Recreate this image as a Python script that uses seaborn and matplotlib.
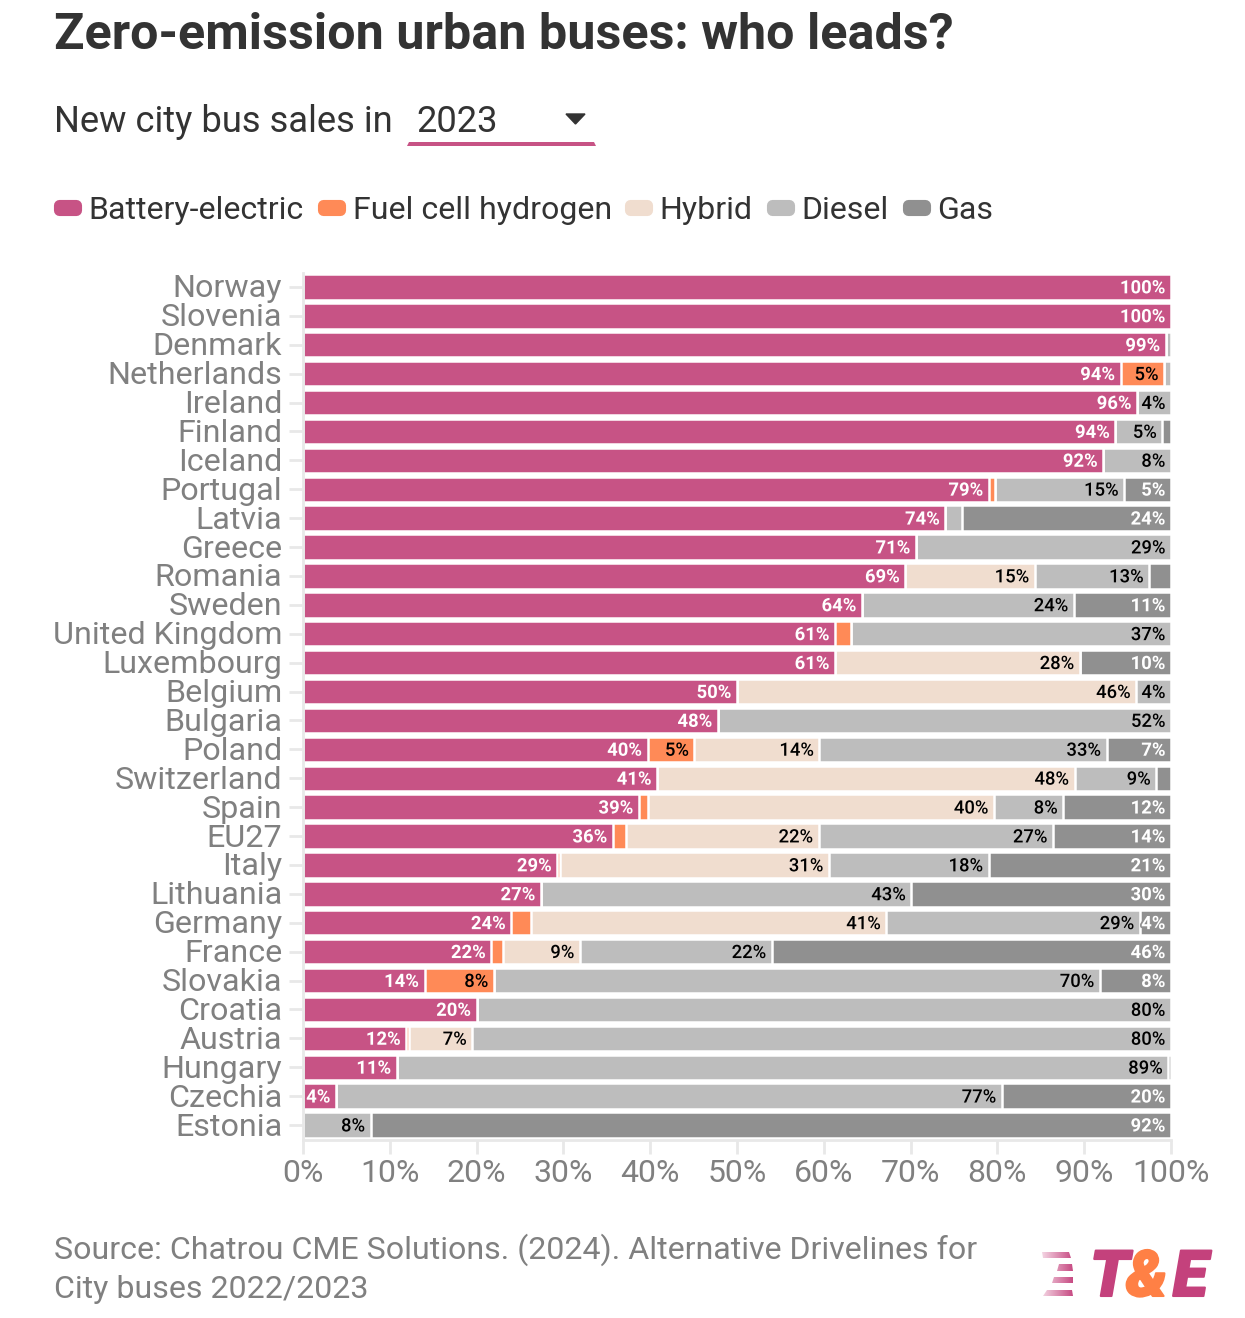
import matplotlib
matplotlib.use('Agg')
import matplotlib.pyplot as plt
import matplotlib.patheffects as pe
from matplotlib.patches import FancyBboxPatch, Polygon
from matplotlib.path import Path
from matplotlib.transforms import ScaledTranslation
import numpy as np
import pandas as pd
import seaborn as sns

countries = ['Norway', 'Slovenia', 'Denmark', 'Netherlands', 'Ireland', 'Finland', 'Iceland',
             'Portugal', 'Latvia', 'Greece', 'Romania', 'Sweden', 'United Kingdom', 'Luxembourg',
             'Belgium', 'Bulgaria', 'Poland', 'Switzerland', 'Spain', 'EU27', 'Italy', 'Lithuania',
             'Germany', 'France', 'Slovakia', 'Croatia', 'Austria', 'Hungary', 'Czechia', 'Estonia']
battery = [100, 100, 99.4, 94.2, 96.1, 93.6, 92.2, 79, 74, 70.6, 69.4, 64.4, 61.3, 61.3, 50, 47.8,
           39.7, 40.8, 38.7, 35.7, 29.3, 27.4, 24, 21.7, 14, 20, 11.9, 10.8, 3.8, 0]
fuel_cell = [0, 0, 0, 5, 0, 0, 0, 0.7, 0, 0, 0, 0, 1.8, 0, 0, 0, 5.4, 0, 1.1, 1.5, 0.3, 0, 2.3, 1.3,
             8, 0, 0.3, 0, 0, 0]
hybrid = [0, 0, 0, 0, 0, 0, 0, 0, 0, 0, 14.9, 0, 0, 28.2, 46, 0, 14.4, 48.1, 39.8, 22.2, 31, 0,
          40.9, 8.9, 0, 0, 7.3, 0, 0, 0]
diesel = [0, 0, 0.6, 0.8, 3.9, 5.4, 7.8, 14.9, 1.9, 29.4, 13.2, 24.4, 36.9, 0, 4, 52.2, 33.1, 9.4,
          8, 27, 18.4, 42.7, 29.2, 22.1, 69.8, 80, 80.5, 88.9, 76.7, 7.8]
gas = [0, 0, 0, 0, 0, 1, 0, 5.4, 24.1, 0, 2.5, 11.2, 0, 10.5, 0, 0, 7.4, 1.7, 12.4, 13.6, 21, 29.9,
       3.6, 46, 8.2, 0, 0, 0.3, 19.5, 92.2]

series_names = ['Battery-electric', 'Fuel cell hydrogen', 'Hybrid', 'Diesel', 'Gas']
series_colors = ['#C75385', '#FF8A57', '#F0DDCF', '#BDBDBD', '#909090']
label_colors = ['white', 'black', 'black', 'black', 'white']
legend_swatch_x = [54, 318, 625, 767, 903]
legend_text_x = [88, 353, 659, 801, 937]
xticks = [0, 10, 20, 30, 40, 50, 60, 70, 80, 90, 100]

W, H = 1245, 1318
GREY = '#808080'
DARK = '#333333'
LIGHT = '#E8E8E8'

sns.set_theme(style='white')
plt.rcParams['font.family'] = ['Roboto', 'DejaVu Sans']

fig = plt.figure(figsize=(W / 100, H / 100), dpi=100, facecolor='white')
ax = fig.add_axes([303 / W, 1 - 1139.5 / H, 868 / W, 867 / H])

df = pd.DataFrame({'country': countries, 'battery': battery, 'fuel_cell': fuel_cell,
                   'hybrid': hybrid, 'diesel': diesel, 'gas': gas})
cols = ['battery', 'fuel_cell', 'hybrid', 'diesel', 'gas']
cum = df[cols].cumsum(axis=1)

# stacked bars: draw the longest cumulative first, shorter ones on top
for col, color in reversed(list(zip(cols, series_colors))):
    sns.barplot(data=cum.assign(country=df['country']), y='country', x=col, color=color,
                saturation=1, width=0.88, edgecolor='white', linewidth=1.8, errorbar=None,
                order=countries, ax=ax)

# percentage labels, right aligned inside the segment
for col, color, txt_color in zip(cols, series_colors, label_colors):
    weight = 'bold' if txt_color == 'white' else 'medium'
    for i in range(len(countries)):
        if df[col][i] >= 3.5:
            ax.annotate(f"{df[col][i]:.0f}%", (cum[col][i], i), xytext=(-4, -1),
                        textcoords='offset points', ha='right', va='center',
                        fontsize=13.3, fontweight=weight, color=txt_color,
                        path_effects=[pe.withStroke(linewidth=2.5, foreground=color)])

ax.set_xlim(0, 100)
ax.set_ylim(len(countries) - 0.5, -0.5)
ax.set_xticks(xticks)
ax.set_xticklabels([f'{t}%' for t in xticks], fontsize=23, color=GREY)
ax.tick_params(axis='x', length=10, width=2, color=LIGHT, pad=4, bottom=True)
ax.tick_params(axis='y', length=10, width=2, color=LIGHT, pad=5, left=True, labelsize=23.2,
               labelcolor=GREY)
# nudge country names up a little
nudge = ScaledTranslation(0, 1 / 100, fig.dpi_scale_trans)
for lab in ax.get_yticklabels():
    lab.set_transform(lab.get_transform() + nudge)
ax.set_xlabel('')
ax.set_ylabel('')
sns.despine(ax=ax, top=True, right=True)
for side in ['left', 'bottom']:
    ax.spines[side].set_color(LIGHT)
    ax.spines[side].set_linewidth(2)


def fx(x):
    return x / W


def fy(y):
    return 1 - y / H


fig.text(fx(54), fy(49), 'Zero-emission urban buses: who leads?', fontsize=36.2, fontweight='bold',
         color=DARK, va='baseline')
fig.text(fx(54), fy(132), 'New city bus sales in', fontsize=26.2, color=DARK, va='baseline')
fig.text(fx(416), fy(132), '2023', fontsize=26.2, color=DARK, va='baseline')

# dropdown arrow and underline
fig.add_artist(Polygon([(fx(566), fy(114)), (fx(585), fy(114)), (fx(575.5), fy(124))],
                       closed=True, color=DARK, transform=fig.transFigure))
fig.add_artist(Polygon([(fx(409), fy(142)), (fx(594), fy(142)), (fx(596), fy(146)), (fx(407), fy(146))],
                       closed=True, color=series_colors[0], lw=0, transform=fig.transFigure))

# legend row
overlay = fig.add_axes([0, 0, 1, 1], facecolor='none', zorder=-1)
overlay.set_xlim(0, W)
overlay.set_ylim(H, 0)
overlay.axis('off')
for name, color, sx, tx in zip(series_names, series_colors, legend_swatch_x, legend_text_x):
    overlay.add_patch(FancyBboxPatch((sx + 5.5, 205.5), 17, 5, boxstyle='round,pad=0,rounding_size=0',
                                     lw=8, ec=color, fc=color, capstyle='round', joinstyle='round'))
    fig.text(fx(tx), fy(219), name, fontsize=23.1, color=DARK, va='baseline')

# source
fig.text(fx(54), fy(1259), 'Source: Chatrou CME Solutions. (2024). Alternative Drivelines for',
         fontsize=23.1, color=GREY, va='baseline')
fig.text(fx(54), fy(1298), 'City buses 2022/2023', fontsize=23.1, color=GREY, va='baseline')

# T&E logo: wordmark plus the four faded stripes
for ch, lx, c in [('T', 1090, '#C4417C'), ('&', 1126, '#FF8045'), ('E', 1173, '#C4417C')]:
    fig.text(fx(lx), fy(1296), ch, fontsize=46, fontweight='black', fontstyle='italic', color=c,
             path_effects=[pe.withStroke(linewidth=1.5, foreground=c)])

stripes = [[(1042, 1252), (1069, 1252), (1071, 1258), (1043, 1258)],
           [(1059, 1264), (1072, 1264), (1073, 1271), (1057, 1271)],
           [(1054, 1277), (1073, 1277), (1073, 1283), (1052, 1283)],
           [(1047, 1290), (1072, 1290), (1073, 1296), (1043, 1296)]]
grad = np.linspace(0, 1, 64).reshape(1, -1)
start, end = np.array([0.96, 0.85, 0.90]), np.array([0.77, 0.26, 0.49])
img = start + (end - start) * grad[..., None]
logo = overlay.imshow(img, extent=(1041, 1075, 1298, 1250), aspect='auto', zorder=2)
overlay.set_xlim(0, W)
overlay.set_ylim(H, 0)
verts, codes = [], []
for s in stripes:
    verts += s + [s[0]]
    codes += [Path.MOVETO, Path.LINETO, Path.LINETO, Path.LINETO, Path.CLOSEPOLY]
logo.set_clip_path(Path(verts, codes), transform=overlay.transData)

fig.savefig('out.png', dpi=100)
